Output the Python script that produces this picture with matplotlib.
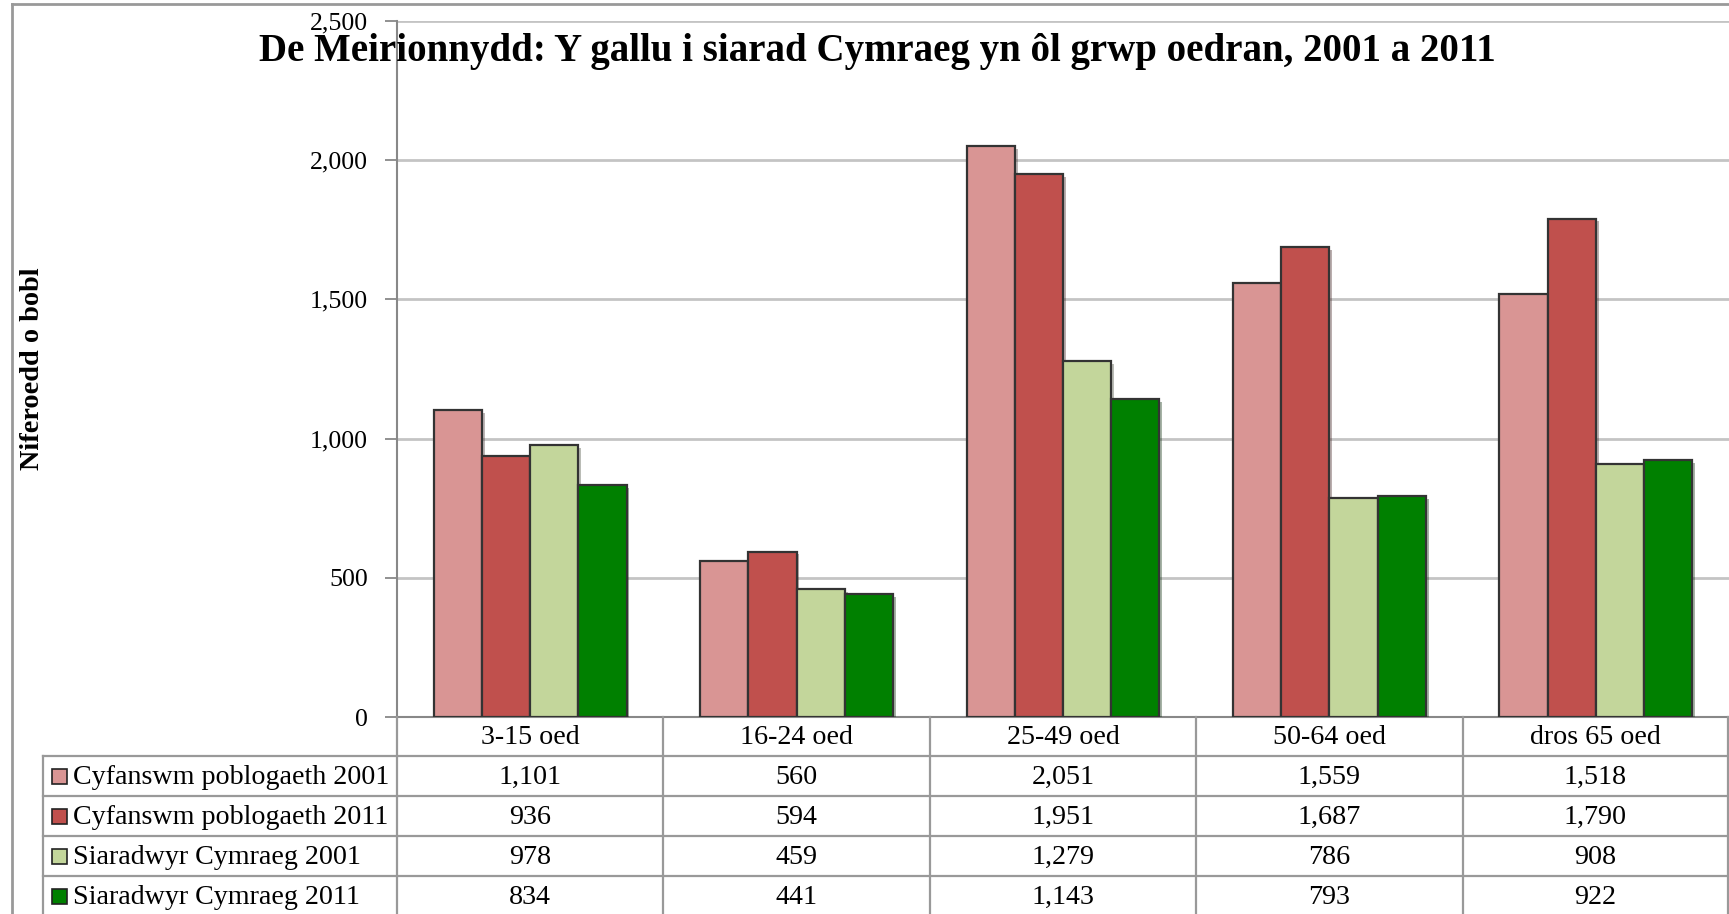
import matplotlib
matplotlib.use('Agg')
import matplotlib.pyplot as plt
from matplotlib import patheffects as pe
from matplotlib.patches import Rectangle
import numpy as np

# ---- data ----
categories = ['3-15 oed', '16-24 oed', '25-49 oed', '50-64 oed', 'dros 65 oed']
series_names = ['Cyfanswm poblogaeth 2001', 'Cyfanswm poblogaeth 2011',
                'Siaradwyr Cymraeg 2001', 'Siaradwyr Cymraeg 2011']
pop_2001 = [1101, 560, 2051, 1559, 1518]
pop_2011 = [936, 594, 1951, 1687, 1790]
speakers_2001 = [978, 459, 1279, 786, 908]
speakers_2011 = [834, 441, 1143, 793, 922]
yticks = [0, 500, 1000, 1500, 2000, 2500]
title = 'De Meirionnydd: Y gallu i siarad Cymraeg yn ôl grwp oedran, 2001 a 2011'
ylabel = 'Niferoedd o bobl'

colors = ['#D99594', '#C0504D', '#C3D69B', '#008000']
FONT = 'Liberation Serif'
LINE = '#999999'

W, H = 1729, 914
fig = plt.figure(figsize=(W / 100, H / 100), dpi=100)
renderer = fig.canvas.get_renderer()


def fit_size(text, target_px, weight='normal', base=20):
    t = fig.text(0, 0, text, fontfamily=FONT, fontsize=base, fontweight=weight)
    w = t.get_window_extent(renderer).width
    t.remove()
    return base * target_px / w


fs_body = fit_size(series_names[0], 315)
fs_tick = fit_size('2,000', 58)
fs_title = fit_size(title, 1235, weight='bold')
fs_ylab = fit_size(ylabel, 202, weight='bold')

ax_l, ax_r, ax_t, ax_b = 397, 1729, 21, 717
ax = fig.add_axes([ax_l / W, 1 - ax_b / H, (ax_r - ax_l) / W, (ax_b - ax_t) / H])

series = [pop_2001, pop_2011, speakers_2001, speakers_2011]
n = len(series)
bw = 0.181
x = np.arange(len(categories))
for k, (vals, c) in enumerate(zip(series, colors)):
    ax.bar(x + (k - (n - 1) / 2) * bw, vals, bw, color=c, edgecolor='#333333',
           linewidth=1.6, zorder=3,
           path_effects=[pe.SimplePatchShadow(offset=(2, -2), alpha=0.35), pe.Normal()])

ax.set_xlim(-0.5, len(categories) - 0.5)
ax.set_ylim(0, 2500)
ax.set_yticks(yticks)
ax.set_yticklabels([f'{v:,}' for v in yticks], fontfamily=FONT, fontsize=fs_tick)
ax.set_xticks([])
ax.yaxis.grid(True, color='#C4C4C4', linewidth=2, zorder=0)
ax.set_axisbelow(True)
ax.tick_params(axis='y', length=9, width=1.3, color='#888888', pad=12)
for s in ['top', 'right']:
    ax.spines[s].set_visible(False)
for s in ['left', 'bottom']:
    ax.spines[s].set_color('#888888')
    ax.spines[s].set_linewidth(1.5)

# ---- overlay in pixel coords for table / frame / titles ----
tab = fig.add_axes([0, 0, 1, 1], zorder=5)
tab.set_xlim(0, W)
tab.set_ylim(H, 0)
tab.axis('off')
tab.patch.set_alpha(0)

# outer frame
tab.plot([12, W], [4, 4], color=LINE, lw=2)
tab.plot([12, 12], [4, H], color=LINE, lw=2)

ncol = len(categories)
colx = [ax_l + i * (ax_r - ax_l) / ncol for i in range(ncol + 1)]
colx[-1] = W - 1
row_y = [ax_b, 756, 796, 836, 876, 916]
leg_l = 43

for yy in row_y[1:-1]:
    tab.plot([leg_l, W], [yy, yy], color=LINE, lw=1.6)
for xx in colx:
    tab.plot([xx, xx], [ax_b, H], color=LINE, lw=1.6)
tab.plot([leg_l, leg_l], [row_y[1], H], color=LINE, lw=1.6)

for i, cat in enumerate(categories):
    cx = (colx[i] + colx[i + 1]) / 2
    tab.text(cx, (row_y[0] + row_y[1]) / 2 + 1, cat, ha='center', va='center',
             fontfamily=FONT, fontsize=fs_body)

for r, (name, vals, c) in enumerate(zip(series_names, series, colors)):
    y0, y1 = row_y[r + 1], row_y[r + 2]
    cy = (y0 + y1) / 2
    tab.add_patch(Rectangle((52, cy - 7.5), 15, 15, facecolor=c, edgecolor='#222222', lw=1.2))
    tab.text(73, cy + 1, name, ha='left', va='center', fontfamily=FONT, fontsize=fs_body)
    for i, v in enumerate(vals):
        cx = (colx[i] + colx[i + 1]) / 2
        tab.text(cx, cy + 1, f'{v:,}', ha='center', va='center', fontfamily=FONT,
                 fontsize=fs_body)

tab.text(877, 61, title, ha='center', va='baseline', fontfamily=FONT,
         fontsize=fs_title, fontweight='bold')
tab.text(33, 369, ylabel, ha='center', va='center', rotation=90, fontfamily=FONT,
         fontsize=fs_ylab, fontweight='bold')

fig.savefig('out.png', dpi=100, facecolor='white')
